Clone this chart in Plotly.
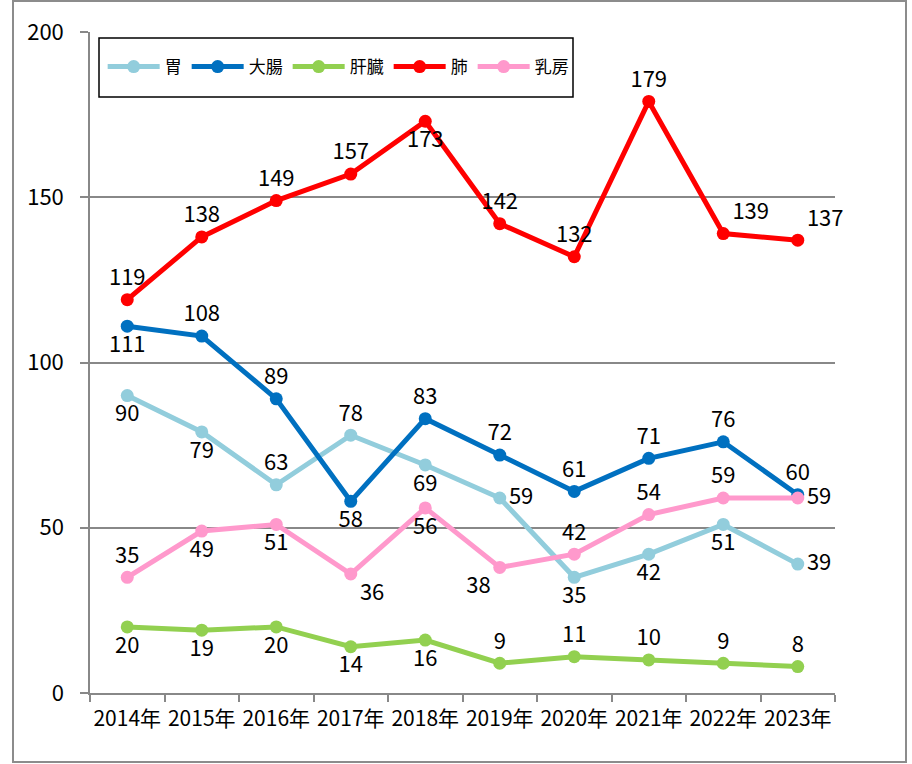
import plotly.graph_objects as go

years = ["2014年", "2015年", "2016年", "2017年", "2018年", "2019年", "2020年", "2021年", "2022年", "2023年"]
series_names = ["胃", "大腸", "肝臓", "肺", "乳房"]
stomach = [90, 79, 63, 78, 69, 59, 35, 42, 51, 39]
colon = [111, 108, 89, 58, 83, 72, 61, 71, 76, 60]
liver = [20, 19, 20, 14, 16, 9, 11, 10, 9, 8]
lung = [119, 138, 149, 157, 173, 142, 132, 179, 139, 137]
breast = [35, 49, 51, 36, 56, 38, 42, 54, 59, 59]
y_ticks = [0, 50, 100, 150, 200]

values = [stomach, colon, liver, lung, breast]
colors = ["#92CDDC", "#0070C0", "#92D050", "#FF0000", "#FF99CC"]
label_pos = [
    ["bottom center", "bottom center", "top center", "top center", "bottom center",
     "middle right", "bottom center", "bottom center", "bottom center", "middle right"],
    ["bottom center", "top center", "top center", "bottom center", "top center",
     "top center", "top center", "top center", "top center", "top center"],
    ["bottom center"] * 5 + ["top center"] * 5,
    ["top center", "top center", "top center", "top center", "bottom center",
     "top center", "top center", "top center", "top right", "top right"],
    ["top center", "bottom center", "bottom center", "bottom right", "bottom center",
     "bottom left", "top center", "top center", "top center", "middle right"],
]

FONT = "'Noto Sans CJK JP', 'Noto Sans', sans-serif"

fig = go.Figure()
for name, vals, col, pos in zip(series_names, values, colors, label_pos):
    fig.add_trace(go.Scatter(
        x=years, y=vals, name=name, mode="lines+markers+text",
        line=dict(color=col, width=5),
        marker=dict(color=col, size=13),
        text=[str(v) for v in vals],
        textposition=pos,
        textfont=dict(size=22, color="black", family=FONT),
        cliponaxis=False,
    ))

grid_col = "#888888"
fig.update_layout(
    width=912, height=764,
    margin=dict(l=90, r=77, t=32, b=71, autoexpand=False),
    paper_bgcolor="white", plot_bgcolor="white",
    font=dict(family=FONT, color="black", size=20),
    showlegend=True,
    legend=dict(
        orientation="h", x=0.017, y=0.947, xanchor="left", yanchor="middle",
        bgcolor="rgba(0,0,0,0)", borderwidth=0,
        font=dict(size=17, family=FONT), itemwidth=52,
    ),
    xaxis=dict(
        type="category", range=[-0.5, 9.5], tickson="boundaries",
        ticks="outside", ticklen=7, tickcolor=grid_col, tickwidth=1.5,
        showline=True, linecolor=grid_col, linewidth=1.5, tickangle=0,
        showgrid=False, tickfont=dict(size=21, family=FONT), ticklabelstandoff=6,
    ),
    yaxis=dict(
        range=[0, 200], tickvals=y_ticks, ticks="outside", ticklen=8,
        tickcolor=grid_col, tickwidth=1.5,
        showline=True, linecolor=grid_col, linewidth=1.5,
        showgrid=True, gridcolor=grid_col, gridwidth=1.5,
        tickfont=dict(size=22, family=FONT), ticklabelstandoff=12,
        zeroline=False,
    ),
    shapes=[
        dict(type="rect", xref="paper", yref="paper",
             x0=(99 - 90) / 745, x1=(573 - 90) / 745,
             y0=(693 - 97) / 661, y1=(693 - 38) / 661,
             line=dict(color="black", width=1.5), fillcolor="white", layer="below"),
        dict(type="rect", xref="paper", yref="paper",
             x0=(13 - 90) / 745, x1=(906 - 90) / 745,
             y0=(693 - 762) / 661, y1=(693 - 1) / 661,
             line=dict(color="#8c8c8c", width=2), fillcolor="rgba(0,0,0,0)"),
    ],
)
fig.write_html("out.html", config={"displayModeBar": False},
               post_script="document.body.style.margin='0';")
